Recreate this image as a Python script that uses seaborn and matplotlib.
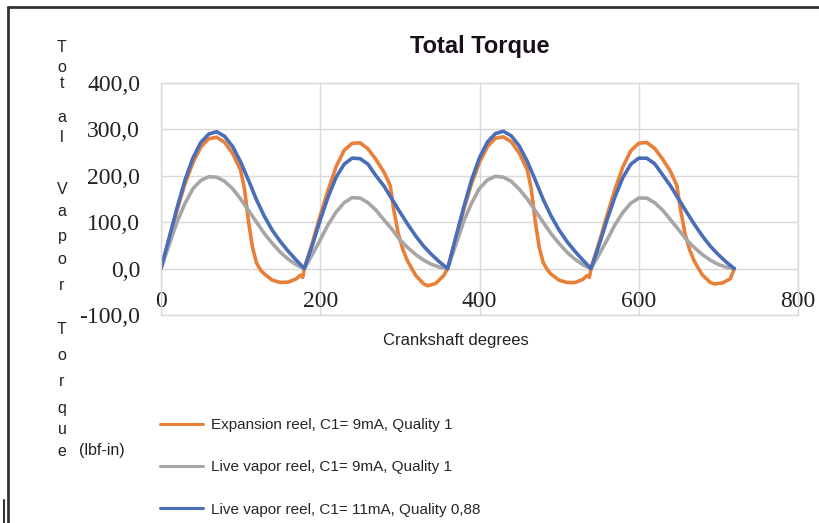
import matplotlib
matplotlib.use("Agg")
import matplotlib.pyplot as plt
import pandas as pd
import seaborn as sns
from matplotlib.lines import Line2D

# values (torque in lbf-in vs crank angle)
labels = [
    "Expansion reel, C1= 9mA, Quality 1",
    "Live vapor reel, C1= 9mA, Quality 1",
    "Live vapor reel, C1= 11mA, Quality 0,88",
]
colors = ["#E8803A", "#A6A6A6", "#4A6DB8"]

orange_deg = [0, 10, 20, 30, 40, 50, 60, 70, 80, 90, 100, 105, 110, 115, 120, 125, 130, 140, 150, 160, 170, 175, 178, 180,
              190, 200, 210, 220, 230, 240, 250, 260, 270, 280, 285, 288, 292, 298, 304, 310, 320, 330, 335, 345, 355, 360,
              370, 380, 390, 400, 410, 420, 430, 440, 450, 460, 465, 470, 475, 480, 485, 490, 500, 510, 520, 530, 535, 538, 540,
              550, 560, 570, 580, 590, 600, 610, 620, 630, 640, 645, 648, 652, 658, 664, 670, 680, 690, 695, 705, 715, 720]
orange_val = [0, 62, 125, 182, 228, 262, 280, 283, 272, 248, 212, 170, 100, 45, 12, -3, -12, -25, -30, -29, -22, -14, -19, 0,
              55, 115, 170, 220, 255, 270, 271, 258, 235, 208, 190, 178, 130, 75, 40, 15, -15, -33, -37, -32, -15, 0,
              63, 126, 183, 229, 263, 281, 284, 273, 249, 213, 172, 102, 46, 13, -2, -12, -25, -30, -30, -23, -15, -19, 0,
              55, 114, 170, 219, 254, 270, 272, 259, 236, 209, 190, 178, 132, 76, 40, 15, -14, -30, -33, -31, -22, 0]

deg = list(range(0, 730, 10))
gray_val = [0, 50, 100, 140, 172, 190, 198, 197, 188, 172, 150, 125, 100, 75, 54, 35, 20, 8, 0,
            30, 62, 95, 122, 142, 153, 152, 142, 126, 105, 85, 62, 45, 30, 18, 9, 3, 0,
            50, 101, 141, 173, 191, 199, 197, 188, 171, 150, 125, 100, 75, 54, 35, 20, 8, 0,
            30, 61, 94, 121, 141, 152, 152, 142, 126, 105, 84, 62, 45, 30, 18, 9, 3, 0]
blue_val = [0, 65, 130, 190, 238, 272, 290, 295, 285, 263, 230, 190, 148, 112, 82, 58, 37, 18, 0,
            50, 105, 155, 197, 225, 238, 237, 225, 200, 178, 150, 122, 95, 70, 48, 30, 14, 0,
            66, 131, 191, 239, 273, 291, 296, 286, 264, 231, 191, 149, 113, 83, 58, 37, 18, 0,
            50, 104, 154, 196, 225, 238, 238, 226, 202, 178, 150, 122, 95, 70, 48, 30, 14, 0]

x_ticks = [0, 200, 400, 600, 800]
y_ticks = [-100, 0, 100, 200, 300, 400]

# the y title is stacked one letter per row, with uneven gaps (pixel rows)
ylab_chars = list("TotalVaporTorque")
ylab_rows = [47, 68, 84, 118, 137, 190, 212, 236, 259, 285, 330, 356, 382, 408, 430, 451]

df = pd.concat([
    pd.DataFrame({"deg": orange_deg, "torque": orange_val, "series": labels[0]}),
    pd.DataFrame({"deg": deg, "torque": gray_val, "series": labels[1]}),
    pd.DataFrame({"deg": deg, "torque": blue_val, "series": labels[2]}),
])

sns.set_style("white")
plt.rcParams["font.family"] = ["Liberation Sans", "DejaVu Sans"]

fig = plt.figure(figsize=(8.19, 5.23), dpi=100)
ax = fig.add_axes([161 / 819, 1 - 315 / 523, (798 - 161) / 819, (315 - 83) / 523])

sns.lineplot(data=df, x="deg", y="torque", hue="series", hue_order=labels,
             palette=colors, estimator=None, sort=False, linewidth=2.6,
             legend=False, ax=ax)

ax.set_xlim(0, 800)
ax.set_ylim(-100, 400)
ax.set_xticks(x_ticks)
ax.set_yticks(y_ticks)
ax.set_xticklabels([str(v) for v in x_ticks])
ax.set_yticklabels([f"{v:.1f}".replace(".", ",") for v in y_ticks])
ax.grid(True, color="#d9d9d9", linewidth=1)
ax.set_axisbelow(True)
for side in ["left", "right", "top"]:
    ax.spines[side].set_color("#d9d9d9")
    ax.spines[side].set_linewidth(1)
# x labels sit under the zero line, like the Excel original
ax.spines["bottom"].set_position(("data", 0))
ax.spines["bottom"].set_visible(False)
ax.plot([0, 800], [-100, -100], color="#d9d9d9", lw=1, clip_on=False, zorder=0)
ax.tick_params(axis="both", length=0, labelsize=17, colors="#222222")
ax.tick_params(axis="y", pad=15)
ax.tick_params(axis="x", pad=16)
for lab in ax.get_xticklabels() + ax.get_yticklabels():
    lab.set_family("Liberation Serif")
ax.set_xlabel("")
ax.set_ylabel("")

fig.text(480 / 819, 1 - 47 / 523, "Total Torque", ha="center", va="center",
         fontsize=17, weight="bold", color="#1c0f1c")
fig.text(456 / 819, 1 - 340 / 523, "Crankshaft degrees", ha="center", va="center",
         fontsize=12, color="#222222")

for ch, row in zip(ylab_chars, ylab_rows):
    fig.text(62 / 819, 1 - row / 523, ch, ha="center", va="center",
             fontsize=11.5, color="#222222")
fig.text(79 / 819, 1 - 451 / 523, "(lbf-in)", ha="left", va="center",
         fontsize=11.5, color="#222222")

handles = [Line2D([0], [0], color=c, lw=2.2) for c in colors]
fig.legend(handles, labels, loc="upper left", bbox_to_anchor=(160 / 819, 1 - 418 / 523),
           frameon=False, fontsize=11, handlelength=2.8, handletextpad=0.55,
           labelspacing=1.85, borderpad=0, borderaxespad=0)

# outer frame of the screenshot
fig.add_artist(Line2D([8 / 819, 1], [1 - 7 / 523, 1 - 7 / 523], color="#333333", lw=2))
fig.add_artist(Line2D([8 / 819, 8 / 819], [0, 1 - 7 / 523], color="#333333", lw=2))
fig.add_artist(Line2D([4 / 819, 4 / 819], [0, 1 - 500 / 523], color="#333333", lw=1.5))

fig.savefig("out.png", dpi=100)
